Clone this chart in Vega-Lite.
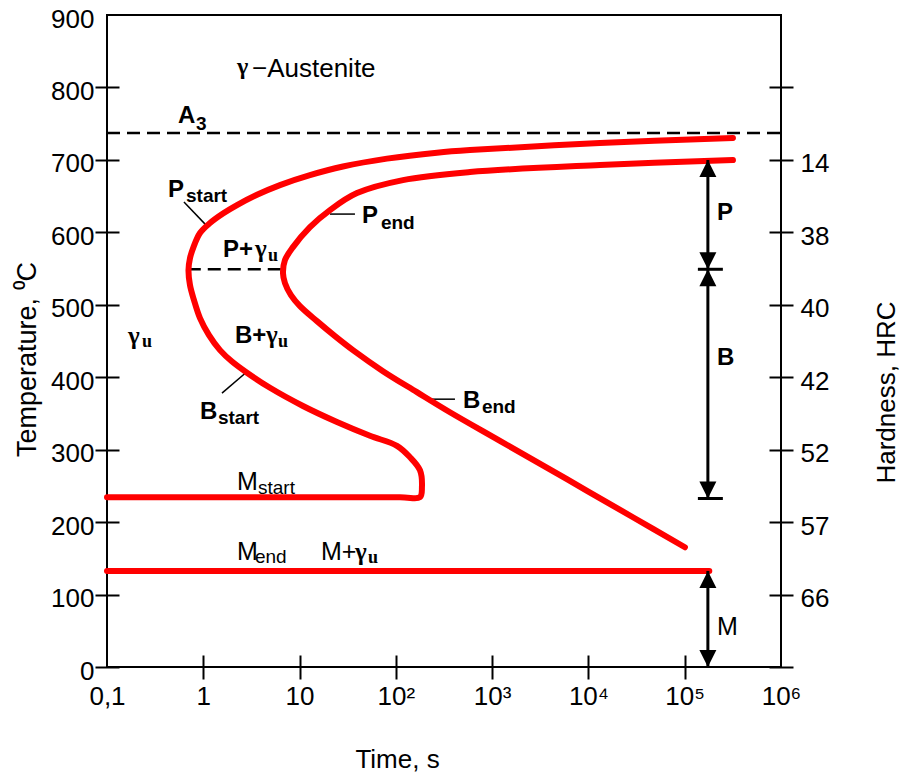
{
  "$schema": "https://vega.github.io/schema/vega-lite/v6.json",
  "width": 674,
  "height": 652,
  "autosize": "none",
  "padding": {"left": 107, "top": 15, "right": 119, "bottom": 105},
  "background": "white",
  "config": {
    "view": {"stroke": "black", "strokeWidth": 2},
    "font": "Liberation Sans",
    "axis": {"labelFont": "Liberation Sans", "titleFont": "Liberation Sans", "labelColor": "black", "titleColor": "black", "tickColor": "black"}
  },
  "datasets": {
    "curves": [
      {"curve": "PB start", "ord": 1, "t": 317000, "T": 730.2},
      {"curve": "PB start", "ord": 2, "t": 13160, "T": 723.2},
      {"curve": "PB start", "ord": 3, "t": 588.3, "T": 713.6},
      {"curve": "PB start", "ord": 4, "t": 267.2, "T": 710.0},
      {"curve": "PB start", "ord": 5, "t": 80.85, "T": 701.7},
      {"curve": "PB start", "ord": 6, "t": 28.23, "T": 690.8},
      {"curve": "PB start", "ord": 7, "t": 12.82, "T": 678.9},
      {"curve": "PB start", "ord": 8, "t": 6.258, "T": 665.2},
      {"curve": "PB start", "ord": 9, "t": 3.612, "T": 651.8},
      {"curve": "PB start", "ord": 10, "t": 2.239, "T": 637.5},
      {"curve": "PB start", "ord": 11, "t": 1.602, "T": 625.9},
      {"curve": "PB start", "ord": 12, "t": 1.174, "T": 612.8},
      {"curve": "PB start", "ord": 13, "t": 0.924, "T": 599.0},
      {"curve": "PB start", "ord": 14, "t": 0.791, "T": 579.6},
      {"curve": "PB start", "ord": 15, "t": 0.7277, "T": 564.4},
      {"curve": "PB start", "ord": 16, "t": 0.7021, "T": 547.9},
      {"curve": "PB start", "ord": 17, "t": 0.7277, "T": 527.1},
      {"curve": "PB start", "ord": 18, "t": 0.8006, "T": 506.4},
      {"curve": "PB start", "ord": 19, "t": 0.924, "T": 481.6},
      {"curve": "PB start", "ord": 20, "t": 1.146, "T": 458.1},
      {"curve": "PB start", "ord": 21, "t": 1.491, "T": 437.4},
      {"curve": "PB start", "ord": 22, "t": 1.986, "T": 421.6},
      {"curve": "PB start", "ord": 23, "t": 2.843, "T": 406.2},
      {"curve": "PB start", "ord": 24, "t": 4.927, "T": 385.4},
      {"curve": "PB start", "ord": 25, "t": 10.85, "T": 360.3},
      {"curve": "PB start", "ord": 26, "t": 24.46, "T": 338.2},
      {"curve": "PB start", "ord": 27, "t": 53.83, "T": 319.2},
      {"curve": "PB start", "ord": 28, "t": 102.7, "T": 305.3},
      {"curve": "PB start", "ord": 29, "t": 140.1, "T": 289.6},
      {"curve": "PB start", "ord": 30, "t": 177.9, "T": 271.6},
      {"curve": "PB start", "ord": 31, "t": 186.6, "T": 248.2},
      {"curve": "PB start", "ord": 32, "t": 177.9, "T": 234.4},
      {"curve": "PB start", "ord": 33, "t": 110.3, "T": 234.4},
      {"curve": "PB start", "ord": 34, "t": 0.1, "T": 234.4},
      {"curve": "PB end", "ord": 1, "t": 317000, "T": 699.8},
      {"curve": "PB end", "ord": 2, "t": 13160, "T": 692.9},
      {"curve": "PB end", "ord": 3, "t": 588.3, "T": 683.2},
      {"curve": "PB end", "ord": 4, "t": 118.5, "T": 672.1},
      {"curve": "PB end", "ord": 5, "t": 39.46, "T": 654.2},
      {"curve": "PB end", "ord": 6, "t": 20.69, "T": 630.7},
      {"curve": "PB end", "ord": 7, "t": 12.82, "T": 607.2},
      {"curve": "PB end", "ord": 8, "t": 8.543, "T": 579.6},
      {"curve": "PB end", "ord": 9, "t": 7.053, "T": 561.7},
      {"curve": "PB end", "ord": 10, "t": 6.726, "T": 543.7},
      {"curve": "PB end", "ord": 11, "t": 7.053, "T": 529.9},
      {"curve": "PB end", "ord": 12, "t": 8.139, "T": 513.3},
      {"curve": "PB end", "ord": 13, "t": 10.10, "T": 498.1},
      {"curve": "PB end", "ord": 14, "t": 15.16, "T": 477.4},
      {"curve": "PB end", "ord": 15, "t": 23.32, "T": 456.7},
      {"curve": "PB end", "ord": 16, "t": 35.84, "T": 437.4},
      {"curve": "PB end", "ord": 17, "t": 73.45, "T": 408.4},
      {"curve": "PB end", "ord": 18, "t": 165.6, "T": 379.4},
      {"curve": "PB end", "ord": 19, "t": 364.6, "T": 351.7},
      {"curve": "PB end", "ord": 20, "t": 1205, "T": 312.2},
      {"curve": "PB end", "ord": 21, "t": 5980, "T": 259.2},
      {"curve": "PB end", "ord": 22, "t": 28980, "T": 206.7},
      {"curve": "PB end", "ord": 23, "t": 100500, "T": 165.3},
      {"curve": "M end", "ord": 1, "t": 0.1, "T": 132.6},
      {"curve": "M end", "ord": 2, "t": 180000, "T": 132.6}
    ],
    "dashes": [
      {"line": "A3", "t": 0.1, "T": 737},
      {"line": "A3", "t": 1000000, "T": 737},
      {"line": "nose", "t": 0.69, "T": 549},
      {"line": "nose", "t": 6.6, "T": 549}
    ],
    "leaders": [
      {"id": "ps", "t": 0.63, "T": 641.8},
      {"id": "ps", "t": 1.119, "T": 607.2},
      {"id": "pe", "t": 20.7, "T": 625.2},
      {"id": "pe", "t": 37.6, "T": 625.2},
      {"id": "bs", "t": 1.564, "T": 378.0},
      {"id": "bs", "t": 2.843, "T": 407.5},
      {"id": "be", "t": 237, "T": 369.7},
      {"id": "be", "t": 411, "T": 369.7}
    ],
    "arrows": [
      {"seg": "PB", "t": 174000, "T": 700},
      {"seg": "PB", "t": 174000, "T": 232.6},
      {"seg": "M", "t": 174000, "T": 132.6},
      {"seg": "M", "t": 174000, "T": 0},
      {"seg": "tick1", "t": 137000, "T": 549},
      {"seg": "tick1", "t": 249000, "T": 549},
      {"seg": "tick2", "t": 137000, "T": 232.6},
      {"seg": "tick2", "t": 249000, "T": 232.6}
    ],
    "heads": [
      {"dir": "up", "t": 174000, "T": 700},
      {"dir": "down", "t": 174000, "T": 549},
      {"dir": "up", "t": 174000, "T": 549},
      {"dir": "down", "t": 174000, "T": 232.6},
      {"dir": "up", "t": 174000, "T": 132.6},
      {"dir": "down", "t": 174000, "T": 0}
    ],
    "labels": [
      {"role": "big", "txt": "P", "t": 0.4298, "T": 648.7},
      {"role": "big", "txt": "P+", "t": 1.602, "T": 565.8},
      {"role": "big", "txt": "P", "t": 44.5, "T": 612.8},
      {"role": "big", "txt": "B+", "t": 2.134, "T": 447.0},
      {"role": "big", "txt": "B", "t": 0.9241, "T": 342.1},
      {"role": "big", "txt": "B", "t": 497.6, "T": 357.3},
      {"role": "big", "txt": "P", "t": 216000, "T": 616.9},
      {"role": "big", "txt": "B", "t": 216000, "T": 416.7},
      {"role": "big", "txt": "A", "t": 0.5461, "T": 750.9},
      {"role": "sub", "txt": "3", "t": 0.8399, "T": 741.2},
      {"role": "sub", "txt": "start", "t": 0.6612, "T": 641.8},
      {"role": "sub", "txt": "end", "t": 70.0, "T": 604.5},
      {"role": "sub", "txt": "start", "t": 1.421, "T": 335.2},
      {"role": "sub", "txt": "end", "t": 783.4, "T": 350.4},
      {"role": "mbig", "txt": "M", "t": 2.239, "T": 244.0},
      {"role": "mbig", "txt": "M", "t": 2.239, "T": 147.4},
      {"role": "mbig", "txt": "M+", "t": 16.68, "T": 147.4},
      {"role": "mbig", "txt": "M", "t": 216000, "T": 43.8},
      {"role": "msub", "txt": "start", "t": 3.698, "T": 238.5},
      {"role": "msub", "txt": "end", "t": 3.442, "T": 143.2},
      {"role": "gamma", "txt": "γ", "t": 3.442, "T": 565.8},
      {"role": "gamma", "txt": "γ", "t": 0.165, "T": 445.6},
      {"role": "gamma", "txt": "γ", "t": 4.479, "T": 447.0},
      {"role": "gamma", "txt": "γ", "t": 37.6, "T": 147.4},
      {"role": "gsub", "txt": "u", "t": 4.697, "T": 560.3},
      {"role": "gsub", "txt": "u", "t": 0.2309, "T": 441.5},
      {"role": "gsub", "txt": "u", "t": 5.967, "T": 441.5},
      {"role": "gsub", "txt": "u", "t": 51.3, "T": 143.2},
      {"role": "ausg", "txt": "γ", "t": 2.239, "T": 818.6},
      {"role": "aus", "txt": "−Austenite", "t": 3.204, "T": 814.4}
    ]
  },
  "resolve": {"axis": {"x": "independent", "y": "independent"}},
  "layer": [
    {
      "data": {"name": "dashes"},
      "mark": {"type": "line", "stroke": "black", "strokeWidth": 2.5, "strokeDash": [13, 7]},
      "encoding": {
        "x": {
          "field": "t", "type": "quantitative",
          "scale": {"type": "log", "domain": [0.1, 1000000], "nice": false},
          "axis": {
            "orient": "bottom", "offset": -12, "tickSize": 24, "tickWidth": 2, "domain": false, "grid": false,
            "values": [0.1, 1, 10, 100, 1000, 10000, 100000, 1000000],
            "labelExpr": "['0,1','1','10','10²','10³','10⁴','10⁵','10⁶'][round(log(datum.value)/LN10)+1]",
            "labelFontSize": 26, "labelPadding": 4, "labelFlush": false, "labelOverlap": false,
            "tickOpacity": {"condition": {"test": "datum.value < 0.5 || datum.value > 500000", "value": 0}, "value": 1},
            "title": "Time, s", "titleFontSize": 26, "titleFontWeight": "normal",
            "titleX": 290, "titleY": 112, "titleAlign": "center", "titleBaseline": "alphabetic"
          }
        },
        "y": {
          "field": "T", "type": "quantitative",
          "scale": {"domain": [0, 900], "nice": false, "zero": false},
          "axis": {
            "orient": "left", "offset": -12, "tickSize": 24, "tickWidth": 2, "domain": false, "grid": false,
            "values": [0, 100, 200, 300, 400, 500, 600, 700, 800, 900],
            "labelFontSize": 26, "labelPadding": 1, "labelOffset": 4, "labelFlush": false, "labelOverlap": false,
            "tickOpacity": {"condition": {"test": "datum.value > 850", "value": 0}, "value": 1},
            "title": "Temperature, ⁰C", "titleFontSize": 27, "titleFontWeight": "normal",
            "titleAngle": 270, "titleX": -84, "titleY": 344, "titleAlign": "center", "titleBaseline": "alphabetic"
          }
        },
        "detail": {"field": "line"}
      }
    },
    {
      "data": {"name": "leaders"},
      "mark": {"type": "line", "stroke": "black", "strokeWidth": 1.5},
      "encoding": {
        "x": {"field": "t", "type": "quantitative", "scale": {"type": "log", "domain": [0.1, 1000000], "nice": false}, "axis": null},
        "y": {
          "field": "T", "type": "quantitative",
          "scale": {"domain": [0, 900], "nice": false, "zero": false},
          "axis": {
            "orient": "right", "offset": -12, "tickSize": 24, "tickWidth": 2, "domain": false, "grid": false,
            "values": [0, 100, 200, 300, 400, 500, 600, 700, 800, 900],
            "labelExpr": "datum.value==700?'14':datum.value==600?'38':datum.value==500?'40':datum.value==400?'42':datum.value==300?'52':datum.value==200?'57':datum.value==100?'66':''",
            "labelFontSize": 26, "labelPadding": 7, "labelOffset": 4, "labelFlush": false, "labelOverlap": false,
            "tickOpacity": {"condition": {"test": "datum.value > 850", "value": 0}, "value": 1},
            "title": "Hardness,  HRC", "titleFontSize": 26, "titleFontWeight": "normal",
            "titleAngle": 270, "titleX": 125, "titleY": 377, "titleAlign": "center", "titleBaseline": "alphabetic"
          }
        },
        "detail": {"field": "id"}
      }
    },
    {
      "data": {"name": "curves"},
      "mark": {"type": "line", "stroke": "#ff0000", "strokeWidth": 6, "strokeCap": "round", "strokeJoin": "round", "interpolate": "catmull-rom"},
      "encoding": {
        "x": {"field": "t", "type": "quantitative", "scale": {"type": "log", "domain": [0.1, 1000000], "nice": false}, "axis": null},
        "y": {"field": "T", "type": "quantitative", "scale": {"domain": [0, 900], "nice": false, "zero": false}, "axis": null},
        "detail": {"field": "curve"},
        "order": {"field": "ord", "type": "quantitative"}
      }
    },
    {
      "data": {"name": "arrows"},
      "mark": {"type": "line", "stroke": "black", "strokeWidth": 3},
      "encoding": {
        "x": {"field": "t", "type": "quantitative", "scale": {"type": "log", "domain": [0.1, 1000000], "nice": false}, "axis": null},
        "y": {"field": "T", "type": "quantitative", "scale": {"domain": [0, 900], "nice": false, "zero": false}, "axis": null},
        "detail": {"field": "seg"}
      }
    },
    {
      "data": {"name": "heads"},
      "mark": {"type": "point", "filled": true, "color": "black", "opacity": 1, "size": 1156, "strokeWidth": 0},
      "encoding": {
        "x": {"field": "t", "type": "quantitative", "scale": {"type": "log", "domain": [0.1, 1000000], "nice": false}, "axis": null},
        "y": {"field": "T", "type": "quantitative", "scale": {"domain": [0, 900], "nice": false, "zero": false}, "axis": null},
        "shape": {"field": "dir", "type": "nominal", "scale": {"domain": ["up", "down"], "range": ["M0,0L-0.5,1L0.5,1Z", "M0,0L-0.5,-1L0.5,-1Z"]}, "legend": null}
      }
    },
    {
      "data": {"name": "labels"},
      "transform": [{"filter": "datum.role == 'big'"}],
      "mark": {"type": "text", "font": "Liberation Sans", "fontWeight": "bold", "fontSize": 24, "align": "left", "baseline": "alphabetic", "color": "black"},
      "encoding": {
        "x": {"field": "t", "type": "quantitative", "scale": {"type": "log", "domain": [0.1, 1000000], "nice": false}, "axis": null},
        "y": {"field": "T", "type": "quantitative", "scale": {"domain": [0, 900], "nice": false, "zero": false}, "axis": null},
        "text": {"field": "txt"}
      }
    },
    {
      "data": {"name": "labels"},
      "transform": [{"filter": "datum.role == 'sub'"}],
      "mark": {"type": "text", "font": "Liberation Sans", "fontWeight": "bold", "fontSize": 19, "align": "left", "baseline": "alphabetic", "color": "black"},
      "encoding": {
        "x": {"field": "t", "type": "quantitative", "scale": {"type": "log", "domain": [0.1, 1000000], "nice": false}, "axis": null},
        "y": {"field": "T", "type": "quantitative", "scale": {"domain": [0, 900], "nice": false, "zero": false}, "axis": null},
        "text": {"field": "txt"}
      }
    },
    {
      "data": {"name": "labels"},
      "transform": [{"filter": "datum.role == 'mbig'"}],
      "mark": {"type": "text", "font": "Liberation Sans", "fontWeight": "normal", "fontSize": 25, "align": "left", "baseline": "alphabetic", "color": "black"},
      "encoding": {
        "x": {"field": "t", "type": "quantitative", "scale": {"type": "log", "domain": [0.1, 1000000], "nice": false}, "axis": null},
        "y": {"field": "T", "type": "quantitative", "scale": {"domain": [0, 900], "nice": false, "zero": false}, "axis": null},
        "text": {"field": "txt"}
      }
    },
    {
      "data": {"name": "labels"},
      "transform": [{"filter": "datum.role == 'msub'"}],
      "mark": {"type": "text", "font": "Liberation Sans", "fontWeight": "normal", "fontSize": 19, "align": "left", "baseline": "alphabetic", "color": "black"},
      "encoding": {
        "x": {"field": "t", "type": "quantitative", "scale": {"type": "log", "domain": [0.1, 1000000], "nice": false}, "axis": null},
        "y": {"field": "T", "type": "quantitative", "scale": {"domain": [0, 900], "nice": false, "zero": false}, "axis": null},
        "text": {"field": "txt"}
      }
    },
    {
      "data": {"name": "labels"},
      "transform": [{"filter": "datum.role == 'gamma'"}],
      "mark": {"type": "text", "font": "Liberation Serif", "fontWeight": "bold", "fontSize": 25, "align": "left", "baseline": "alphabetic", "color": "black"},
      "encoding": {
        "x": {"field": "t", "type": "quantitative", "scale": {"type": "log", "domain": [0.1, 1000000], "nice": false}, "axis": null},
        "y": {"field": "T", "type": "quantitative", "scale": {"domain": [0, 900], "nice": false, "zero": false}, "axis": null},
        "text": {"field": "txt"}
      }
    },
    {
      "data": {"name": "labels"},
      "transform": [{"filter": "datum.role == 'gsub'"}],
      "mark": {"type": "text", "font": "Liberation Serif", "fontWeight": "bold", "fontSize": 18, "align": "left", "baseline": "alphabetic", "color": "black"},
      "encoding": {
        "x": {"field": "t", "type": "quantitative", "scale": {"type": "log", "domain": [0.1, 1000000], "nice": false}, "axis": null},
        "y": {"field": "T", "type": "quantitative", "scale": {"domain": [0, 900], "nice": false, "zero": false}, "axis": null},
        "text": {"field": "txt"}
      }
    },
    {
      "data": {"name": "labels"},
      "transform": [{"filter": "datum.role == 'ausg'"}],
      "mark": {"type": "text", "font": "Liberation Serif", "fontWeight": "bold", "fontSize": 24, "align": "left", "baseline": "alphabetic", "color": "black"},
      "encoding": {
        "x": {"field": "t", "type": "quantitative", "scale": {"type": "log", "domain": [0.1, 1000000], "nice": false}, "axis": null},
        "y": {"field": "T", "type": "quantitative", "scale": {"domain": [0, 900], "nice": false, "zero": false}, "axis": null},
        "text": {"field": "txt"}
      }
    },
    {
      "data": {"name": "labels"},
      "transform": [{"filter": "datum.role == 'aus'"}],
      "mark": {"type": "text", "font": "Liberation Sans", "fontWeight": "normal", "fontSize": 26, "align": "left", "baseline": "alphabetic", "color": "black"},
      "encoding": {
        "x": {"field": "t", "type": "quantitative", "scale": {"type": "log", "domain": [0.1, 1000000], "nice": false}, "axis": null},
        "y": {"field": "T", "type": "quantitative", "scale": {"domain": [0, 900], "nice": false, "zero": false}, "axis": null},
        "text": {"field": "txt"}
      }
    }
  ]
}
